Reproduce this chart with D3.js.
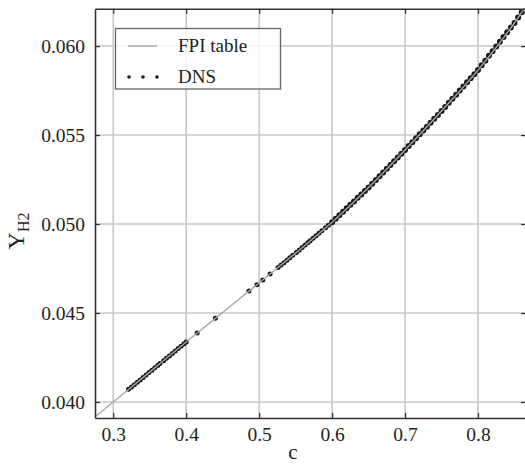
<!DOCTYPE html>
<html><head><meta charset="utf-8">
<script src="https://cdn.jsdelivr.net/npm/d3@7"></script>
<style>
html,body{margin:0;padding:0;background:#fff;}
svg{display:block;font-family:"Liberation Serif","Times New Roman",serif;}
</style></head>
<body><svg id="chart" width="525" height="465"></svg>
<script>
// FPI table (c, Y_H2)
const fpiC = [0.27, 0.30, 0.35, 0.40, 0.45, 0.50, 0.55, 0.60, 0.65, 0.70, 0.75, 0.80, 0.85, 0.87];
const fpiY = [0.03899, 0.04000, 0.04168, 0.04337, 0.04503, 0.04669, 0.04837, 0.05010, 0.05205, 0.05416, 0.05635, 0.05865, 0.06130, 0.06250];

// DNS samples (c, Y_H2)
const dnsC = [
  0.321,0.325,0.329,0.333,0.337,0.341,0.345,0.349,0.353,0.357,0.361,0.364,
  0.369,0.373,0.377,0.381,0.385,0.389,0.393,0.397,0.400,
  0.415,0.440,0.486,0.497,0.505,0.515,
  0.526,0.530,0.534,0.538,0.542,0.546,
  0.551,0.555,0.559,0.563,0.567,
  0.570,0.574,0.578,0.582,0.586,
  0.591,0.595,
  0.600,0.605,0.610,0.615,0.620,0.625,0.630,0.635,0.640,0.645,0.650,
  0.655,0.660,0.665,0.670,0.675,0.680,0.685,0.690,0.695,0.700,
  0.705,0.710,0.715,0.720,0.725,0.730,0.735,0.740,0.745,0.750,
  0.755,0.760,0.765,0.770,0.775,0.780,0.785,0.790,0.795,0.800,
  0.805,0.810,0.815,0.820,0.825,0.830,0.835,0.840,0.845,0.850,
  0.855,0.860,0.865
];
const dnsY = [
  0.04071,0.04084,0.04097,0.04111,0.04124,0.04138,0.04151,0.04165,0.04178,0.04192,0.04205,0.04216,
  0.04232,0.04246,0.04259,0.04273,0.04286,0.04300,0.04313,0.04327,0.04337,
  0.04387,0.04470,0.04623,0.04659,0.04686,0.04719,
  0.04756,0.04770,0.04783,0.04797,0.04810,0.04824,
  0.04840,0.04854,0.04868,0.04882,0.04896,
  0.04906,0.04920,0.04934,0.04948,0.04962,
  0.04979,0.04993,
  0.05010,0.05030,0.05049,0.05069,0.05088,0.05108,0.05127,0.05147,0.05166,0.05186,0.05205,
  0.05226,0.05247,0.05268,0.05289,0.05310,0.05332,0.05353,0.05374,0.05395,0.05416,
  0.05438,0.05460,0.05482,0.05504,0.05526,0.05547,0.05569,0.05591,0.05613,0.05635,
  0.05658,0.05681,0.05704,0.05727,0.05750,0.05773,0.05796,0.05819,0.05842,0.05865,
  0.05892,0.05918,0.05945,0.05971,0.05998,0.06024,0.06051,0.06077,0.06104,0.06130,
  0.06160,0.06190,0.06220
];

const xTicks = [0.3, 0.4, 0.5, 0.6, 0.7, 0.8];
const yTicks = [0.040, 0.045, 0.050, 0.055, 0.060];
const legendLabels = ["FPI table", "DNS"];

const SERIF = '"Liberation Serif", "Times New Roman", serif';
const L = 95, R = 526, T = 8.7, B = 418;
const x = d3.scaleLinear().domain([0.275, 0.8658]).range([L, R]);
const y = d3.scaleLinear().domain([0.0391, 0.0621]).range([B, T]);

const svg = d3.select("#chart");

svg.append("defs").append("clipPath").attr("id","clip")
  .append("rect").attr("x",L).attr("y",T).attr("width",R-L).attr("height",B-T);

// grid
const grid = svg.append("g");
grid.selectAll("line.gx").data(xTicks).join("line")
  .attr("x1",d=>x(d)).attr("x2",d=>x(d)).attr("y1",T).attr("y2",B)
  .attr("stroke","#c8c8c8").attr("stroke-width",1.6);
grid.selectAll("line.gy").data(yTicks).join("line")
  .attr("y1",d=>y(d)).attr("y2",d=>y(d)).attr("x1",L).attr("x2",R)
  .attr("stroke","#c8c8c8").attr("stroke-width",1.6);

// data
const plot = svg.append("g").attr("clip-path","url(#clip)");
const dns = dnsC.map((c,i)=>[c,dnsY[i]]);
plot.selectAll("circle").data(dns).join("circle")
  .attr("cx",d=>x(d[0])).attr("cy",d=>y(d[1]))
  .attr("r",d=>d[0] >= 0.6 ? 3.0 : 2.5).attr("fill","#1a1a1a");
const fpi = fpiC.map((c,i)=>[c,fpiY[i]]);
plot.append("path").datum(fpi)
  .attr("d", d3.line().x(d=>x(d[0])).y(d=>y(d[1])).curve(d3.curveMonotoneX))
  .attr("fill","none").attr("stroke","#a8a8a8").attr("stroke-width",1.4);

// axes
const axCol = "#333";
const fs = 19.5;
const ab = svg.append("g").attr("transform",`translate(0,${B})`)
  .call(d3.axisBottom(x).tickValues(xTicks).tickSizeInner(-5).tickSizeOuter(0).tickPadding(9).tickFormat(d3.format(".1f")));
const at = svg.append("g").attr("transform",`translate(0,${T})`)
  .call(d3.axisTop(x).tickValues(xTicks).tickSizeInner(-5).tickSizeOuter(0).tickFormat(""));
const al = svg.append("g").attr("transform",`translate(${L},0)`)
  .call(d3.axisLeft(y).tickValues(yTicks).tickSizeInner(-5).tickSizeOuter(0).tickPadding(10).tickFormat(d3.format(".3f")));
const ar = svg.append("g").attr("transform",`translate(${R},0)`)
  .call(d3.axisRight(y).tickValues(yTicks).tickSizeInner(-5).tickSizeOuter(0).tickFormat(""));
[ab,at,al,ar].forEach(g=>{
  g.attr("font-family",SERIF).attr("font-size",fs);
  g.select(".domain").attr("stroke",axCol).attr("stroke-width",1.6);
  g.selectAll(".tick line").attr("stroke",axCol).attr("stroke-width",1.3);
  g.selectAll("text").attr("fill","#222").attr("font-family",SERIF).attr("font-size",fs);
});

// axis titles
svg.append("text").attr("x",293).attr("y",459).attr("text-anchor","middle")
  .attr("font-family",SERIF).attr("font-size",21).attr("fill","#222").text("c");
const yl = svg.append("text").attr("transform","translate(24,231) rotate(-90)")
  .attr("text-anchor","middle").attr("fill","#222").attr("font-family",SERIF);
yl.append("tspan").attr("font-size",24).text("Y");
yl.append("tspan").attr("dy",5).attr("font-size",16).text("H2");

// legend
const lg = svg.append("g");
lg.append("rect").attr("x",115.5).attr("y",28.5).attr("width",165).attr("height",60.5)
  .attr("fill","#fff").attr("fill-opacity",0.8).attr("stroke","#666").attr("stroke-width",1.3);
lg.append("line").attr("x1",128).attr("x2",157).attr("y1",46).attr("y2",46)
  .attr("stroke","#a8a8a8").attr("stroke-width",1.4);
[129,143,157].forEach(cx=>lg.append("circle").attr("cx",cx).attr("cy",77).attr("r",1.8).attr("fill","#1a1a1a"));
lg.selectAll("text").data(legendLabels).join("text")
  .attr("x",178).attr("y",(d,i)=>52+i*30.5).attr("font-family",SERIF).attr("font-size",19).attr("fill","#222").text(d=>d);
</script></body></html>
